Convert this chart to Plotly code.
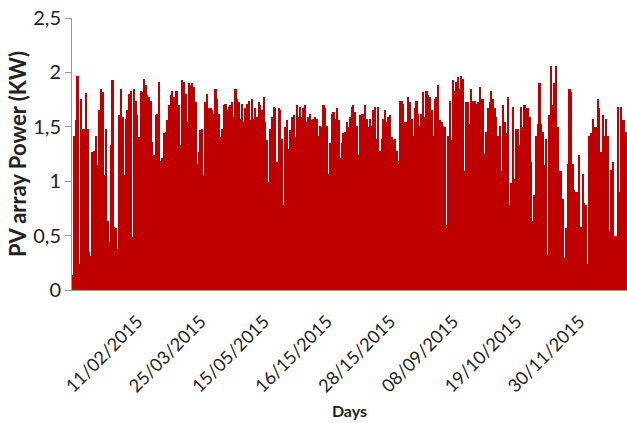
import plotly.graph_objects as go

# Daily PV array power (kW)
seg1 = [0.14, 1.42, 1.56, 1.97, 0.24, 1.76, 1.48, 1.48, 1.81, 1.48, 0.35, 0.31, 1.27, 1.28, 1.42,
        1.15, 1.65, 1.85, 1.82, 1.06, 1.48, 0.63, 0.44, 1.33, 1.93, 0.58, 0.57, 0.38, 1.61, 1.85,
        1.59, 1.06, 1.57, 1.65, 1.80, 1.83, 0.49, 1.85, 1.74, 1.61, 1.41, 1.83, 1.82, 1.94, 1.88,
        1.79, 1.77, 1.74, 1.36, 1.24, 1.61, 1.62, 1.91, 1.19, 1.21, 1.44, 1.45, 1.56, 1.70, 1.79,
        1.83, 1.77, 1.83, 1.83, 1.70, 1.33, 1.93, 1.91]
seg2 = [1.80, 1.54, 1.90, 1.88, 1.90, 1.87, 1.73, 1.16, 1.27, 1.47, 1.48, 1.06, 1.73, 1.80, 1.67,
        1.67, 1.65, 1.62, 1.85, 1.76, 1.62, 1.41, 1.48, 1.70, 1.71, 1.65, 1.68, 1.70, 1.73, 1.59,
        1.85, 1.76, 1.73, 1.57, 1.71, 1.54, 1.67, 1.71, 1.74, 1.56, 1.76, 1.57, 1.67, 1.59, 1.73,
        1.70, 1.65, 1.77, 1.54, 1.38, 0.99, 1.48, 1.59, 1.68, 1.67, 1.18, 1.67, 1.65, 1.39, 0.78,
        1.50, 1.56, 1.30, 1.47, 1.59, 1.61, 1.41]
seg3 = [1.70, 1.59, 1.68, 1.59, 1.67, 1.70, 1.54, 1.59, 1.62, 1.56, 1.57, 1.59, 1.57, 1.42, 1.51,
        1.50, 1.70, 1.67, 1.51, 1.07, 1.35, 1.62, 1.64, 1.57, 1.67, 1.56, 1.21, 1.35, 1.44, 1.45,
        1.54, 1.50, 1.59, 1.68, 1.70, 1.64, 1.51, 1.24, 1.61, 1.62, 1.62, 1.70, 1.57, 1.50, 1.57,
        1.51, 1.65, 1.68, 1.39, 1.68, 1.28, 1.39, 1.57, 1.65, 1.54, 1.59, 1.61, 1.41, 1.38, 1.39,
        1.28, 1.19, 1.74, 1.74, 1.71, 1.54, 1.54]
seg4 = [1.77, 1.73, 1.57, 1.42, 1.67, 1.74, 1.62, 1.51, 1.62, 1.82, 1.59, 1.83, 1.79, 1.77, 1.65,
        1.42, 1.76, 1.77, 1.88, 1.56, 1.54, 1.51, 1.50, 0.60, 1.42, 1.74, 1.38, 1.93, 1.83, 1.91,
        1.96, 1.85, 1.97, 1.94, 1.09, 1.73, 1.73, 1.53, 1.85, 1.74, 1.74, 1.71, 1.73, 1.87, 1.76,
        1.76, 1.25, 1.45, 1.67, 1.73, 1.83, 1.76, 1.67, 1.59, 1.42, 1.51, 1.09, 1.70, 1.54, 1.44,
        1.77, 0.78, 0.98]
seg5 = [1.68, 1.02, 1.48, 1.48, 1.33, 1.68, 1.50, 1.70, 1.67, 1.67, 1.59, 1.18, 0.63, 0.87, 1.42,
        1.53, 1.90, 1.53, 1.45, 1.15, 1.39, 0.32, 1.61, 2.06, 1.70, 1.90, 2.06, 1.50, 1.09, 1.09,
        0.84, 0.29, 0.57, 1.16, 1.85, 1.82, 1.16, 0.92, 0.90, 0.90, 1.24, 0.58, 1.07, 0.80, 0.78,
        0.24, 1.42, 1.44, 1.57, 1.50, 1.50, 1.76, 1.67, 1.27, 1.61, 1.42, 1.57, 1.42, 0.54, 1.10,
        1.18, 0.50, 0.50, 1.68, 0.90, 1.68, 1.56, 1.56, 1.45]

power_kw = seg1 + seg2 + seg3 + seg4 + seg5
days = list(range(len(power_kw)))

tick_days = [39, 77, 115, 153, 191, 229, 267, 305]
tick_labels = ["11/02/2015", "25/03/2015", "15/05/2015", "16/15/2015",
               "28/15/2015", "08/09/2015", "19/10/2015", "30/11/2015"]

y_ticks = [0, 0.5, 1, 1.5, 2, 2.5]

fig = go.Figure(go.Bar(
    x=days, y=power_kw,
    marker=dict(color="#C00000", line=dict(width=0)),
))

font_family = "Lato, 'Open Sans', sans-serif"

fig.update_layout(
    width=627, height=423,
    margin=dict(l=72, r=0, t=18, b=133),
    paper_bgcolor="white", plot_bgcolor="white",
    bargap=0,
    separators=", ",
    showlegend=False,
    font=dict(family=font_family, color="#222222", size=15),
)
fig.update_xaxes(
    range=[-0.5, len(power_kw) - 0.5],
    tickmode="array", tickvals=tick_days, ticktext=tick_labels,
    tickangle=-45, tickfont=dict(size=18, color="#222222"),
    ticklabelstandoff=13,
    showline=True, linecolor="#9a9a9a", linewidth=1,
    ticks="", showgrid=False, zeroline=False,
    title=dict(text="<b>Days</b>", font=dict(size=16, color="#222222"), standoff=10),
)
fig.update_yaxes(
    range=[0, 2.5],
    tickmode="array", tickvals=y_ticks,
    tickfont=dict(size=20, color="#222222"),
    showline=True, linecolor="#9a9a9a", linewidth=1,
    ticks="outside", ticklen=6, tickcolor="#9a9a9a",
    showgrid=False, zeroline=False,
    title=dict(text="<b>PV array Power (KW)</b>", font=dict(size=22, color="#222222"), standoff=0),
)

fig.write_html("out.html")
